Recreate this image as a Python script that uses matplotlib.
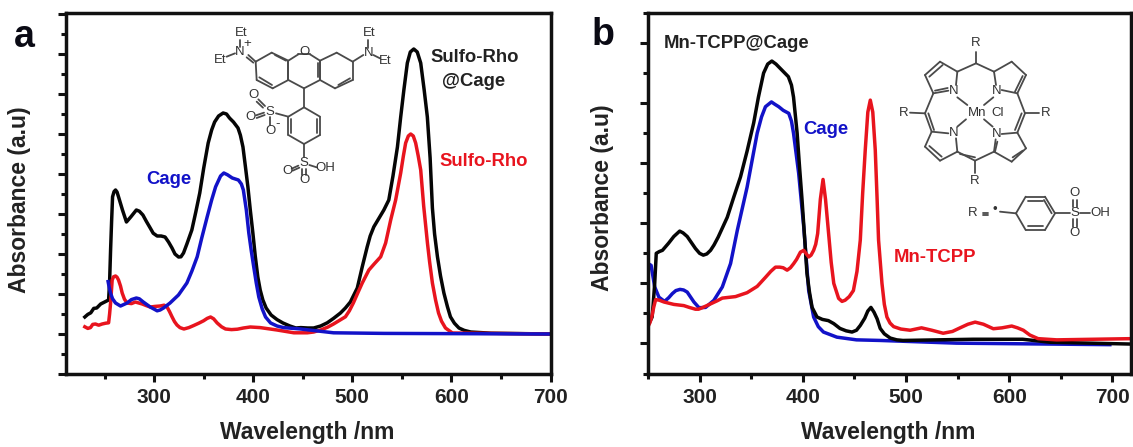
import matplotlib
matplotlib.use("Agg")
import matplotlib.pyplot as plt
from matplotlib.ticker import MultipleLocator
import numpy as np

plt.rcParams['font.family'] = ['Liberation Sans', 'DejaVu Sans']
plt.rcParams['font.weight'] = 'bold'

W, H = 1133, 447
BLACK, RED, BLUE = '#050505', '#e8141e', '#1212c8'
TEXT = '#222222'
GREY = '#4a4a4a'

# panel a
a_black_nm = [230, 233, 236, 239, 242, 246, 250, 254, 255, 256, 257, 258, 259.5, 261, 262.5, 264, 268, 272, 276.5, 282,
              285, 288.6, 292, 296, 299, 303, 307, 311, 314.5, 318, 321, 324.6, 327, 329.6, 333, 338, 342, 346, 350,
              354.5, 358, 361, 365, 369.6, 373, 376, 380, 384.6, 387, 389.6, 392, 394.6, 397, 399.6, 402, 404.6, 407,
              409.7, 413, 418, 424, 430, 437, 443, 448, 455, 461, 468, 474.7, 481, 488, 493, 498, 505, 510, 515, 518,
              521.7, 527, 531.8, 536.8, 541, 545.5, 548.8, 552, 555.5, 558.5, 562, 565.5, 569, 572.5, 575.7, 578.5,
              580.8, 583, 585.9, 589, 592.4, 596, 599, 603, 607.6, 613, 619.5, 640, 700]
a_black_abs = [.0425, .049, .053, .064, .065, .075, .08, .085, .13, .21, .28, .343, .356, .36, .355, .343, .31, .28, .293,
               .31, .307, .2975, .282, .265, .252, .245, .245, .2425, .23, .215, .2, .1925, .193, .2025, .225, .26, .305,
               .3525, .415, .4775, .51, .53, .545, .5525, .55, .54, .53, .515, .497, .4675, .42, .3675, .31, .2525, .195,
               .1425, .11, .085, .065, .0475, .036, .0275, .02, .015, .016, .015, .015, .02, .028, .039, .0525, .065,
               .08, .115, .168, .218, .245, .268, .29, .31, .335, .395, .4675, .5425, .61, .6775, .705, .7125, .705,
               .6775, .61, .5425, .44, .315, .25, .193, .145, .1025, .068, .043, .027, .015, .009, .005, .002, 0]
a_red_nm = [230, 233, 235.7, 238, 240.7, 244, 247.5, 251, 254, 255, 256, 257.6, 259, 261, 262.5, 264, 266, 267.7, 270,
            272.7, 277, 281, 288, 292, 296, 301, 306, 310, 313, 315.5, 318, 320.5, 323, 326, 330, 335, 339.7, 345,
            349.8, 353.5, 356.9, 360, 363.6, 368, 372, 378, 384, 390, 397, 407, 424, 441, 454.5, 461, 468, 475, 481,
            487, 493, 497, 501, 505, 510, 516.7, 522, 528.6, 533.6, 538.7, 543.7, 548.8, 551.5, 553.8, 556.5, 558.9,
            561.5, 563.9, 566.5, 569, 572, 575.8, 578, 580.8, 584, 587, 590, 594, 601, 700]
a_red_abs = [.018, .014, .016, .024, .025, .022, .025, .027, .028, .05, .0775, .135, .143, .145, .142, .135, .12, .1025,
             .087, .0775, .076, .08, .075, .071, .0675, .069, .07, .072, .0675, .056, .043, .031, .0225, .016, .0125,
             .016, .021, .027, .033, .039, .0425, .038, .0275, .018, .0125, .011, .012, .015, .0175, .016, .01, .003,
             .003, .005, .01, .017, .025, .034, .043, .058, .0775, .1, .1275, .16, .175, .193, .2275, .285, .335, .4025,
             .445, .4775, .495, .5, .495, .4775, .445, .41, .32, .2275, .18, .1275, .085, .0525, .032, .015, .0025, 0]
a_blue_nm = [253.5, 254.5, 255.9, 258, 261, 266, 272.7, 277, 282, 285, 289, 296, 303, 306, 309.4, 316, 324.5, 333, 338,
             343.4, 348, 353.5, 358, 362, 367, 370.3, 374, 378.8, 385, 388, 390, 393, 395.5, 398, 400.5, 403, 405.6,
             409, 412.4, 417.5, 424, 430.6, 447.8, 481, 532, 700]
a_blue_abs = [.131, .118, .1025, .088, .0775, .07, .0775, .086, .09, .088, .08, .0675, .058, .06, .065, .0775, .0975,
              .1275, .157, .193, .24, .293, .335, .368, .395, .4025, .398, .39, .385, .375, .36, .31, .2525, .208, .1675,
              .128, .0925, .063, .0425, .0275, .02, .016, .0125, .003, .0015, 0]

# panel b
b_black_nm = [250, 252, 254, 255, 256.5, 258, 261, 264, 270, 275, 280.7, 284, 288, 292, 296, 300, 303.6, 307, 310.6, 314,
              318, 326.8, 333, 339.6, 346, 352.4, 357, 362, 366, 370, 374, 378, 382, 386, 389, 391, 394.5, 397, 399.3,
              402, 404, 406.5, 409, 413.8, 419, 424.8, 430, 436, 442, 447.7, 452, 455.7, 460, 463, 466, 469, 472, 475,
              479, 484.7, 491, 497, 565, 613, 639.5, 718]
b_black_abs = [.038, .037, .044, .065, .1, .15, .153, .155, .167, .178, .187, .184, .178, .168, .158, .15, .147, .149,
               .155, .164, .177, .21, .243, .277, .32, .367, .41, .45, .465, .47, .465, .458, .451, .444, .43, .41, .35,
               .29, .238, .17, .117, .085, .06, .044, .04, .038, .033, .025, .021, .019, .022, .03, .042, .054, .06, .052,
               .041, .025, .016, .009, .006, .005, .007, .007, .002, -.001]
b_red_nm = [250, 252, 254, 255.5, 257.4, 261, 265.5, 275, 284.7, 290, 296, 299, 302.6, 307, 312, 317, 322, 334.8, 346,
            355.8, 363.8, 369, 373.5, 377.7, 381, 384.8, 388, 391.2, 394, 397.7, 400.9, 403, 405.7, 408, 410.5, 412.5,
            414.4, 417, 419.6, 422, 425, 427.5, 430, 434.7, 438, 441, 445, 449, 452.5, 455.7, 458, 460.5, 463, 465.4,
            467.8, 470.2, 472, 473.4, 476.7, 479, 481.5, 484.5, 488, 495, 504, 515, 525, 536, 545, 552.4, 560, 567, 575,
            584.6, 593, 602.4, 608, 613.7, 620, 628, 646, 718]
b_red_abs = [.028, .035, .047, .06, .073, .072, .069, .065, .063, .06, .057, .057, .0595, .063, .067, .071, .0755, .078,
             .0845, .095, .11, .12, .127, .127, .126, .122, .126, .133, .14, .152, .155, .15, .144, .147, .155, .165,
             .183, .24, .273, .24, .183, .135, .1, .075, .07, .072, .078, .088, .12, .172, .25, .322, .385, .405, .385,
             .322, .24, .172, .1, .065, .044, .034, .028, .024, .022, .026, .022, .017, .02, .026, .032, .0355, .032,
             .0245, .026, .029, .026, .022, .014, .008, .006, .008]
b_blue_nm = [250, 253, 256.5, 260.6, 266, 270, 273.6, 277, 281, 284.5, 288, 294.5, 299.4, 305.8, 313.8, 322, 330, 336.5,
             346, 355.8, 360, 363.8, 369.6, 373, 376.7, 381, 386.4, 389, 391, 396, 400.9, 405.7, 410.5, 415, 420, 433,
             452, 475, 549, 697.5]
b_blue_abs = [.133, .13, .094, .077, .07, .076, .083, .088, .09, .089, .0855, .069, .0595, .06, .0717, .094, .133, .188,
              .26, .35, .377, .394, .402, .398, .394, .388, .383, .37, .35, .283, .194, .088, .044, .028, .019, .0105,
              .006, .005, .0005, -.002]

xticks_major = [300, 400, 500, 600, 700]
panel_boxes = {'a': (66, 551, 13, 374), 'b': (648, 1131, 13, 373.5)}


def make_axes(fig, box, xlim, ylim, ymajor):
    left, right, top, bottom = box
    ax = fig.add_axes([left / W, 1 - bottom / H, (right - left) / W, (bottom - top) / H])
    ax.set_xlim(*xlim)
    ax.set_ylim(*ylim)
    ax.set_xticks(xticks_major)
    ax.xaxis.set_minor_locator(MultipleLocator(50))
    ax.yaxis.set_major_locator(MultipleLocator(ymajor))
    ax.yaxis.set_minor_locator(MultipleLocator(ymajor / 2))
    ax.set_yticklabels([])
    ax.tick_params(which='major', length=5.8, width=2.2, color='#111111', labelsize=15, labelcolor=TEXT, pad=4.5)
    ax.tick_params(which='minor', length=3.4, width=2.2, color='#111111')
    for s in ax.spines.values():
        s.set_linewidth(2.5)
        s.set_color('#111111')
    return ax


fig = plt.figure(figsize=(W / 100, H / 100), dpi=100, facecolor='white')

ax_a = make_axes(fig, panel_boxes['a'], (211, 700.5), (-.1, .8025), .1)
ax_a.plot(a_black_nm, a_black_abs, color=BLACK, lw=2.5)
ax_a.plot(a_red_nm, a_red_abs, color=RED, lw=2.5)
ax_a.plot(a_blue_nm, a_blue_abs, color=BLUE, lw=2.5)

ax_b = make_axes(fig, panel_boxes['b'], (250, 718), (-.05, .55), .1)
ax_b.plot(b_blue_nm, b_blue_abs, color=BLUE, lw=2.5)
ax_b.plot(b_black_nm, b_black_abs, color=BLACK, lw=2.5)
ax_b.plot(b_red_nm, b_red_abs, color=RED, lw=2.5)

# overlay in picture pixels for labels and the two structures
ov = fig.add_axes([0, 0, 1, 1], facecolor='none')
ov.set_xlim(0, W)
ov.set_ylim(H, 0)
ov.axis('off')


def label(x, y, s, color=TEXT, size=13.3, **kw):
    ov.text(x, y, s, color=color, fontsize=size, ha='center', va='center', fontweight='bold', **kw)


label(24, 37, 'a', color='#0a0a14', size=27)
label(603, 35, 'b', color='#0a0a14', size=27)
label(20, 200, 'Absorbance (a.u)', size=16.5, rotation=90)
label(603, 198, 'Absorbance (a.u)', size=16.5, rotation=90)
label(307, 433, 'Wavelength /nm', size=16.5)
label(888, 432, 'Wavelength /nm', size=16.5)
label(169, 179, 'Cage', color=BLUE)
label(475, 58, 'Sulfo-Rho')
label(474, 81, '@Cage')
label(484, 161, 'Sulfo-Rho', color=RED)
label(737, 44, 'Mn-TCPP@Cage')
label(826, 129, 'Cage', color=BLUE)
label(935, 257, 'Mn-TCPP', color=RED)


def bonds(segs, ox, oy, lw=1.3):
    for x0, y0, x1, y1 in segs:
        ov.plot([ox + x0 / 3, ox + x1 / 3], [oy + y0 / 3, oy + y1 / 3], color=GREY, lw=lw, solid_capstyle='round')


def atoms(items, ox, oy, size=9.5):
    for x, y, s in items:
        ov.text(ox + x / 3, oy + y / 3, s, color='#333333', fontsize=size, ha='center', va='center',
                fontweight='normal')


def ring(pts):
    n = len(pts)
    return [(*pts[i], *pts[(i + 1) % n]) for i in range(n)]


rho_left = [(167, 185), (215, 158), (265, 182), (265, 240), (218, 265), (170, 240)]
rho_mid = [(265, 182), (295, 163), (330, 163), (360, 182), (360, 240), (312, 265), (265, 240)]
rho_right = [(360, 182), (410, 158), (458, 185), (458, 240), (405, 265), (360, 240)]
rho_low = [(312, 322), (360, 350), (360, 405), (312, 432), (265, 405), (265, 350)]
rho_extra = [(145, 165, 167, 185), (140, 172, 160, 188), (120, 120, 120, 140), (80, 170, 105, 160),
             (458, 185, 490, 165), (505, 120, 505, 145), (520, 165, 540, 175), (312, 265, 312, 322),
             (265, 350, 228, 340), (195, 318, 175, 298), (189, 323, 170, 305), (192, 338, 168, 346),
             (194, 345, 170, 354), (210, 350, 210, 375), (312, 432, 312, 470), (295, 497, 275, 506),
             (298, 503, 278, 512), (306, 508, 306, 525), (318, 508, 318, 525), (328, 495, 350, 502),
             (178, 232, 216, 255), (225, 165, 258, 182), (415, 255, 450, 235), (353, 190, 353, 232),
             (352, 358, 352, 398), (272, 358, 272, 398)]
rho_atoms = [(125, 100, 'Et'), (120, 155, 'N'), (143, 132, '+'), (60, 180, 'Et'), (312, 155, 'O'), (505, 160, 'N'),
             (507, 100, 'Et'), (555, 183, 'Et'), (210, 335, 'S'), (160, 285, 'O'), (152, 352, 'O'), (210, 392, 'O'),
             (232, 372, '-'), (312, 490, 'S'), (262, 512, 'O'), (312, 540, 'O'), (375, 505, 'OH')]
bonds(ring(rho_left) + ring(rho_mid) + ring(rho_right) + ring(rho_low) + rho_extra, 200, 0)
atoms(rho_atoms, 200, 0)

por_bonds = [(288, 95, 288, 130), (288, 130, 232, 155), (288, 130, 342, 155), (232, 155, 180, 125), (180, 125, 135, 165),
             (188, 135, 148, 170), (135, 165, 160, 220), (160, 220, 205, 212), (165, 212, 203, 204), (232, 155, 228, 195),
             (342, 155, 395, 125), (395, 125, 438, 165), (438, 165, 412, 220), (428, 168, 405, 215), (412, 220, 365, 210),
             (342, 155, 348, 195), (160, 220, 135, 280), (135, 280, 155, 335), (145, 280, 162, 330), (90, 278, 135, 280),
             (155, 335, 135, 380), (135, 380, 180, 422), (148, 378, 185, 410), (180, 422, 232, 395), (155, 335, 205, 340),
             (232, 395, 228, 355), (232, 395, 285, 422), (240, 402, 285, 412), (285, 422, 342, 395), (285, 422, 285, 460),
             (412, 220, 435, 280), (435, 280, 412, 338), (425, 280, 405, 330), (435, 280, 478, 280), (412, 338, 365, 342),
             (412, 338, 438, 385), (438, 385, 395, 425), (428, 392, 398, 412), (395, 425, 342, 395), (342, 395, 347, 358),
             (352, 365, 345, 395), (232, 232, 262, 255), (340, 232, 312, 255), (232, 320, 258, 298), (338, 320, 312, 298),
             (360, 575, 408, 580), (408, 580, 437, 530), (437, 530, 495, 530), (495, 530, 525, 580), (525, 580, 495, 630),
             (495, 630, 437, 630), (437, 630, 408, 580), (445, 542, 488, 542), (445, 618, 488, 618), (515, 580, 492, 540),
             (525, 580, 570, 580), (600, 580, 630, 580), (580, 540, 580, 562), (590, 540, 590, 562), (580, 598, 580, 622),
             (590, 598, 590, 622), (310, 578, 325, 578), (310, 584, 325, 584)]
por_atoms = [(288, 70, 'R'), (222, 212, 'N'), (350, 212, 'N'), (222, 340, 'N'), (350, 342, 'N'), (72, 278, 'R'),
             (498, 280, 'R'), (285, 482, 'R'), (290, 278, 'Mn'), (352, 278, 'Cl'), (277, 580, 'R'), (345, 570, '\u2022'),
             (585, 580, 'S'), (585, 520, 'O'), (585, 640, 'O'), (660, 580, 'OH')]
bonds(por_bonds, 880, 20)
atoms(por_atoms, 880, 20)

fig.savefig('out.png', dpi=100)
